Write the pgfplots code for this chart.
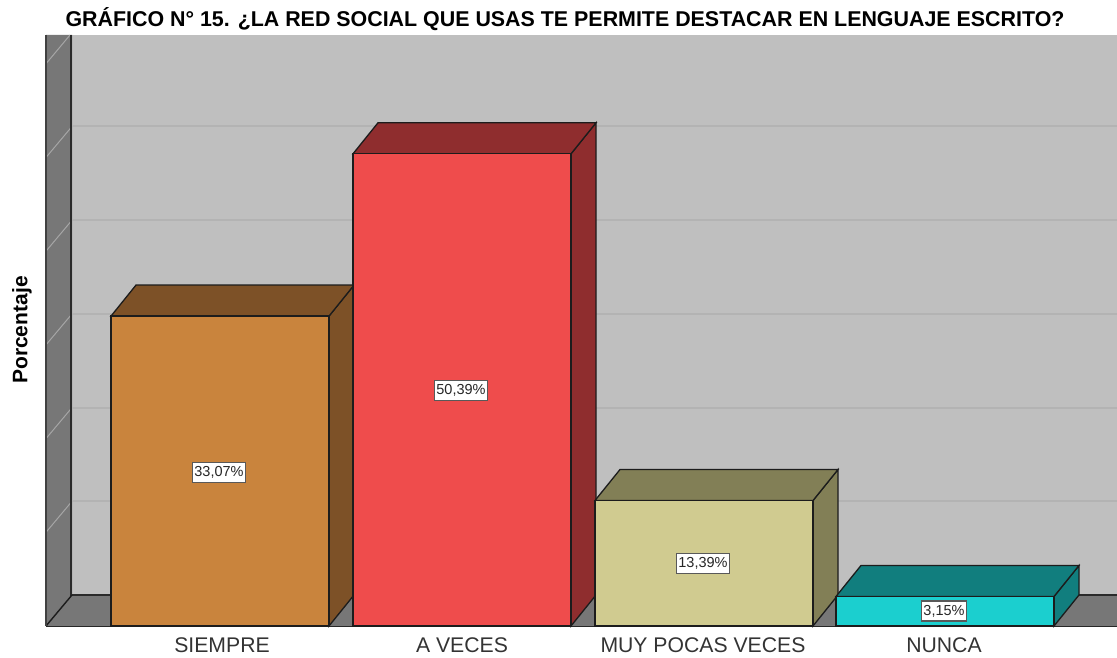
\documentclass[border=0pt]{standalone}
\usepackage{pgfplots}
\pgfplotsset{compat=1.18}
\usepackage{fontspec}
\setmainfont{Liberation Sans}
\definecolor{wallback}{HTML}{BFBFBF}
\definecolor{wallside}{HTML}{777777}
\definecolor{gridc}{HTML}{B3B3B3}
\definecolor{sidegrid}{HTML}{A6A6A6}
\definecolor{edge}{HTML}{1C1C1C}
\definecolor{oF}{HTML}{C9843D}\definecolor{oD}{HTML}{7D5127}
\definecolor{rF}{HTML}{EF4C4C}\definecolor{rD}{HTML}{8F2D2E}
\definecolor{kF}{HTML}{D0CB90}\definecolor{kD}{HTML}{827F56}
\definecolor{tF}{HTML}{1BCFCF}\definecolor{tD}{HTML}{117E7E}
\begin{document}
\begin{tikzpicture}
\path[use as bounding box] (-46pt,-31pt) rectangle (1071pt,626pt);
\begin{axis}[
  scale only axis, width=1071pt, height=591pt,
  xmin=46, xmax=1117, ymin=0, ymax=63.07,
  axis x line*=bottom, axis y line=none,
  axis line style={edge, line width=1.2pt, -},
  xtick={222,462,703,944},
  xticklabels={SIEMPRE,A VECES,MUY POCAS VECES,NUNCA},
  major tick length=0pt,
  xticklabel style={font=\fontsize{21.2}{24}\selectfont, text=black!80, yshift=-8pt},
  title={\textbf{GRÁFICO N° 15. ¿LA RED SOCIAL QUE USAS TE PERMITE DESTACAR EN LENGUAJE ESCRITO?}},
  title style={font=\fontsize{21.4}{24}\selectfont, at={(axis cs:565,62.9)}, anchor=south, inner sep=0pt},
  clip=false,
  ]
% walls
\addplot[fill=wallback, draw=none] coordinates {(72,3.31)(1117,3.31)(1117,63.07)(72,63.07)} --cycle;
\addplot[fill=wallside, draw=none] coordinates {(46,0)(72,3.31)(72,63.07)(46,63.07)} --cycle;
\addplot[fill=wallside, draw=none] coordinates {(46,0)(72,3.31)(1117,3.31)(1117,0)} --cycle;
% grid on back wall
\addplot[gridc, line width=2pt] coordinates {(72,13.31)(1117,13.31)};
\addplot[gridc, line width=2pt] coordinates {(72,23.31)(1117,23.31)};
\addplot[gridc, line width=2pt] coordinates {(72,33.31)(1117,33.31)};
\addplot[gridc, line width=2pt] coordinates {(72,43.31)(1117,43.31)};
\addplot[gridc, line width=2pt] coordinates {(72,53.31)(1117,53.31)};
% grid on side wall
\addplot[sidegrid, line width=1pt] coordinates {(46,10)(72,13.31)};
\addplot[sidegrid, line width=1pt] coordinates {(46,20)(72,23.31)};
\addplot[sidegrid, line width=1pt] coordinates {(46,30)(72,33.31)};
\addplot[sidegrid, line width=1pt] coordinates {(46,40)(72,43.31)};
\addplot[sidegrid, line width=1pt] coordinates {(46,50)(72,53.31)};
\addplot[sidegrid, line width=1pt] coordinates {(46,60)(70,63.07)};
% wall edges
\addplot[edge!85!wallside, line width=2pt] coordinates {(71,63.07)(71,3.31)(1117,3.31)};
\addplot[edge, line width=1.4pt] coordinates {(46,0)(72,3.31)};
\addplot[edge!60!wallside, line width=1.2pt] coordinates {(46,63.07)(46,0)};
% bars: SIEMPRE
\addplot[fill=oD, draw=edge, line width=1.3pt] coordinates {(329,0)(354,3.31)(354,36.38)(329,33.07)} --cycle;
\addplot[fill=oD, draw=edge, line width=1.3pt] coordinates {(111,33.07)(136,36.38)(354,36.38)(329,33.07)} --cycle;
\addplot[ybar, bar shift=0pt, bar width=218pt, fill=oF, draw=edge, line width=1.3pt] coordinates {(220,33.07)};
% A VECES
\addplot[fill=rD, draw=edge, line width=1.3pt] coordinates {(571,0)(596,3.31)(596,53.70)(571,50.39)} --cycle;
\addplot[fill=rD, draw=edge, line width=1.3pt] coordinates {(353,50.39)(378,53.70)(596,53.70)(571,50.39)} --cycle;
\addplot[ybar, bar shift=0pt, bar width=218pt, fill=rF, draw=edge, line width=1.3pt] coordinates {(462,50.39)};
% MUY POCAS VECES
\addplot[fill=kD, draw=edge, line width=1.3pt] coordinates {(813,0)(838,3.31)(838,16.70)(813,13.39)} --cycle;
\addplot[fill=kD, draw=edge, line width=1.3pt] coordinates {(595,13.39)(620,16.70)(838,16.70)(813,13.39)} --cycle;
\addplot[ybar, bar shift=0pt, bar width=218pt, fill=kF, draw=edge, line width=1.3pt] coordinates {(704,13.39)};
% NUNCA
\addplot[fill=tD, draw=edge, line width=1.3pt] coordinates {(1054,0)(1079,3.31)(1079,6.46)(1054,3.15)} --cycle;
\addplot[fill=tD, draw=edge, line width=1.3pt] coordinates {(836,3.15)(861,6.46)(1079,6.46)(1054,3.15)} --cycle;
\addplot[ybar, bar shift=0pt, bar width=218pt, fill=tF, draw=edge, line width=1.3pt] coordinates {(945,3.15)};
% value labels
\addplot[draw=none, mark=none, point meta=explicit symbolic,
  nodes near coords,
  every node near coord/.append style={anchor=center, fill=white, draw=black!65, line width=1.2pt,
    font=\fontsize{14.5}{16}\selectfont, inner xsep=2pt, inner ysep=4pt, text=black!85}]
  coordinates {(219,16.4)[33,07\%] (461,25.1)[50,39\%] (703,6.7)[13,39\%] (944,1.6)[3,15\%]};
\end{axis}
\node[rotate=90, font=\bfseries\fontsize{21}{24}\selectfont] at (-24pt,296pt) {Porcentaje};
\end{tikzpicture}
\end{document}
